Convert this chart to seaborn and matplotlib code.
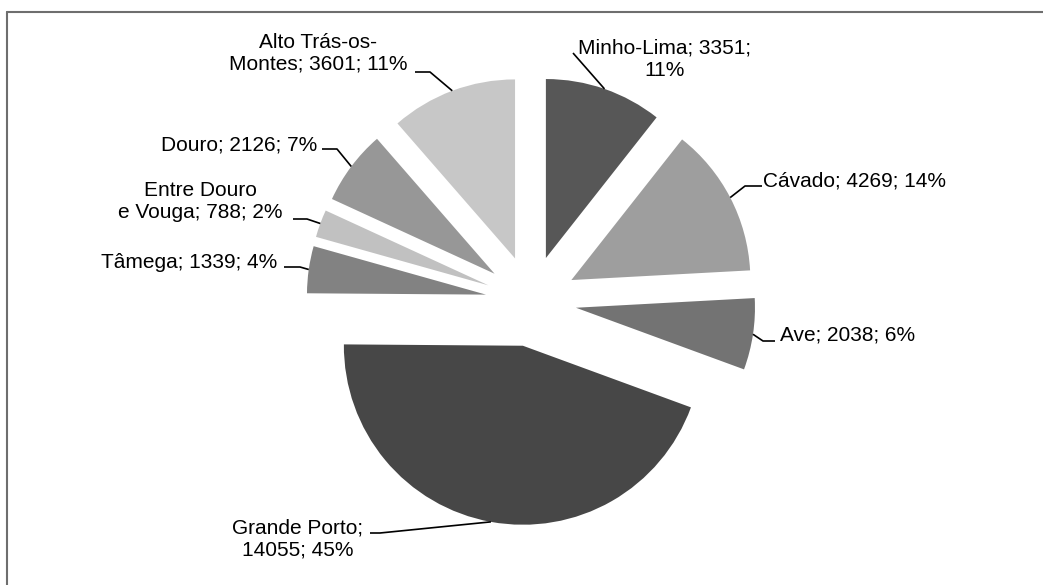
import numpy as np
import matplotlib
matplotlib.use("Agg")
import matplotlib.pyplot as plt
from matplotlib.lines import Line2D
import seaborn as sns

sns.set_theme(style="white")
plt.rcParams['font.family'] = ['Liberation Sans', 'DejaVu Sans']

# data
regions = ["Minho-Lima", "Cávado", "Ave", "Grande Porto", "Tâmega",
           "Entre Douro e Vouga", "Douro", "Alto Trás-os-Montes"]
values = [3351, 4269, 2038, 14055, 1339, 788, 2126, 3601]
percents = [11, 14, 6, 45, 4, 2, 7, 11]
label_texts = ["Minho-Lima; 3351;\n11%", "Cávado; 4269; 14%", "Ave; 2038; 6%",
               "Grande Porto;\n14055; 45%", "Tâmega; 1339; 4%",
               "Entre Douro\ne Vouga; 788; 2%", "Douro; 2126; 7%",
               "Alto Trás-os-\nMontes; 3601; 11%"]
grays = ["#575757", "#9e9e9e", "#737373", "#474747", "#828282",
         "#c1c1c1", "#979797", "#c7c7c7"]

W, H = 1043, 585
CX, CY, R = 531, 301, 179   # pie centre and radius in pixels

def px(x, y):
    return (x - CX) / R, (CY - y) / R

# label layout in pixels: text anchor, alignment, leader elbow points
layout = [
    ((665, 59.5), "center", [(573, 53)]),
    ((763, 181), "left", [(762, 186), (745, 186)]),
    ((780, 335), "left", [(775, 341), (763, 341)]),
    ((298, 538.5), "center", [(370, 533), (380, 533)]),
    ((277, 262), "right", [(284, 267), (300, 267)]),
    ((200, 201), "center", [(293, 219), (307, 219)]),
    ((317, 145), "right", [(322, 149), (337, 149)]),
    ((318, 53), "center", [(415, 72), (430, 72)]),
]

fig = plt.figure(figsize=(W / 100, H / 100), dpi=100)
ax = fig.add_axes([0, 0, 1, 1])

wedges, _ = ax.pie(values, colors=grays, startangle=90, counterclock=False,
                   explode=[0.254] * len(values), radius=1,
                   wedgeprops=dict(linewidth=0))

ax.set_xlim(-CX / R, (W - CX) / R)
ax.set_ylim((CY - H) / R, CY / R)
ax.set_aspect('auto')
ax.axis('off')

for w, txt, (pos, ha, elbows) in zip(wedges, label_texts, layout):
    mid = np.deg2rad((w.theta1 + w.theta2) / 2)
    ex = w.center[0] + w.r * np.cos(mid)
    ey = w.center[1] + w.r * np.sin(mid)
    pts = [px(*p) for p in elbows] + [(ex, ey)]
    ax.plot([p[0] for p in pts], [p[1] for p in pts], color='black', lw=1.2,
            solid_capstyle='butt', clip_on=False)
    tx, ty = px(*pos)
    ax.text(tx, ty, txt, ha=ha, va='center', multialignment='center',
            fontsize=15, color='black', linespacing=1.2)

# chart area border (top and left only visible)
fig.add_artist(Line2D([6.5 / W, 1], [1 - 11.5 / H] * 2, transform=fig.transFigure,
                      color='#6e6e6e', lw=1.5))
fig.add_artist(Line2D([6.5 / W] * 2, [0, 1 - 11.5 / H], transform=fig.transFigure,
                      color='#6e6e6e', lw=1.5))

fig.savefig('out.png', dpi=100)
